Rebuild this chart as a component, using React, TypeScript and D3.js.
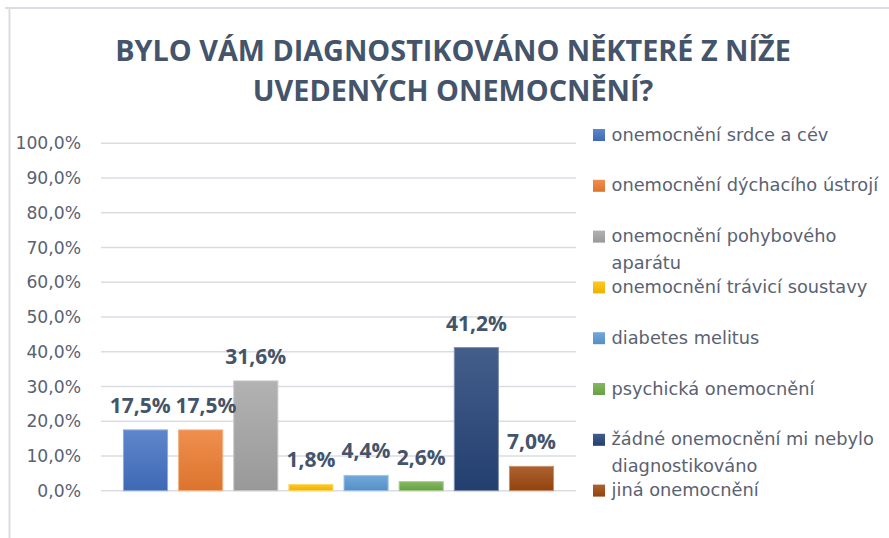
import React, { useEffect, useRef } from "react";
import * as d3 from "d3";

const titleLines = ["BYLO VÁM DIAGNOSTIKOVÁNO NĚKTERÉ Z NÍŽE", "UVEDENÝCH ONEMOCNĚNÍ?"];
const categories = [
  "onemocnění srdce a cév",
  "onemocnění dýchacího ústrojí",
  "onemocnění pohybového aparátu",
  "onemocnění trávicí soustavy",
  "diabetes melitus",
  "psychická onemocnění",
  "žádné onemocnění mi nebylo diagnostikováno",
  "jiná onemocnění",
];
const legendLines = [
  ["onemocnění srdce a cév"],
  ["onemocnění dýchacího ústrojí"],
  ["onemocnění pohybového", "aparátu"],
  ["onemocnění trávicí soustavy"],
  ["diabetes melitus"],
  ["psychická onemocnění"],
  ["žádné onemocnění mi nebylo", "diagnostikováno"],
  ["jiná onemocnění"],
];
const values = [17.5, 17.5, 31.6, 1.8, 4.4, 2.6, 41.2, 7.0];
const colors = ["#4472c4", "#ed7d31", "#a5a5a5", "#ffc000", "#5b9bd5", "#70ad47", "#264478", "#9e480e"];
const yTicks = [0, 10, 20, 30, 40, 50, 60, 70, 80, 90, 100];

const W = 889;
const H = 538;

export default function App() {
  const ref = useRef<SVGSVGElement | null>(null);

  useEffect(() => {
    const svg = d3.select(ref.current);
    svg.selectAll("*").remove();

    const plotLeft = 101, plotRight = 576, plotTop = 143.3, plotBottom = 490.7;
    const x = d3.scaleBand<number>().domain(d3.range(values.length)).range([plotLeft, plotRight]).paddingInner(0.2).paddingOuter(0.407);
    const y = d3.scaleLinear().domain([0, 100]).range([plotBottom, plotTop]);
    const fmt = (v: number) => v.toFixed(1).replace(".", ",") + "%";

    // frame
    svg.append("line").attr("x1", 5).attr("x2", W).attr("y1", 8).attr("y2", 8).attr("stroke", "#d9dde3").attr("stroke-width", 2);
    svg.append("line").attr("x1", 9.5).attr("x2", 9.5).attr("y1", 8).attr("y2", H).attr("stroke", "#d9dde3").attr("stroke-width", 2);

    // gradients
    const defs = svg.append("defs");
    colors.forEach((c, i) => {
      const g = defs.append("linearGradient").attr("id", "g" + i).attr("x1", 0).attr("y1", 0).attr("x2", 0).attr("y2", 1);
      g.append("stop").attr("offset", "0%").attr("stop-color", d3.interpolateRgb(c, "#ffffff")(0.14));
      g.append("stop").attr("offset", "100%").attr("stop-color", d3.color(c)!.darker(0.22).formatHex());
    });

    // title
    svg.append("g").selectAll("text").data(titleLines).join("text")
      .attr("x", 453).attr("y", (_d, i) => 61 + i * 39.5)
      .attr("text-anchor", "middle")
      .attr("font-family", "'Open Sans', sans-serif").attr("font-weight", 700).attr("font-size", 28.8)
      .attr("fill", "#44546a").text((d) => d);

    // gridlines
    svg.append("g").selectAll("line").data(yTicks).join("line")
      .attr("x1", plotLeft).attr("x2", plotRight)
      .attr("y1", (d) => y(d)).attr("y2", (d) => y(d))
      .attr("stroke", "#d9dde3").attr("stroke-width", 1.5);

    // y tick labels
    svg.append("g").selectAll("text").data(yTicks).join("text")
      .attr("x", 81).attr("y", (d) => y(d)).attr("dy", "0.36em")
      .attr("text-anchor", "end")
      .attr("font-family", "'DejaVu Sans', sans-serif").attr("font-size", 17.2)
      .attr("fill", "#5a6272").text((d) => fmt(d));

    // bars
    svg.append("g").selectAll("rect").data(values).join("rect")
      .attr("x", (_d, i) => x(i)!).attr("width", x.bandwidth())
      .attr("y", (d) => y(d)).attr("height", (d) => y(0) - y(d))
      .attr("fill", (_d, i) => `url(#g${i})`)
      .attr("stroke", (_d, i) => d3.interpolateRgb(colors[i], "#ffffff")(0.4)).attr("stroke-width", 1);

    // value labels
    const labels = svg.append("g").selectAll("text").data(values).join("text")
      .attr("x", (_d, i) => x(i)! + x.bandwidth() / 2).attr("y", (d) => y(d) - 17)
      .attr("text-anchor", "middle")
      .attr("font-family", "'Open Sans', sans-serif").attr("font-weight", 700).attr("font-size", 21)
      .attr("fill", "#44546a").text((d) => fmt(d));

    // simple collision avoidance between neighbouring labels
    const nodes = labels.nodes() as SVGTextElement[];
    const info = nodes.map((n, i) => ({ cx: x(i)! + x.bandwidth() / 2, w: n.getComputedTextLength(), y: y(values[i]) - 17 }));
    const gap = 5;
    for (let i = 0; i < info.length - 1; i++) {
      const a = info[i], b = info[i + 1];
      if (Math.abs(a.y - b.y) < 16) {
        const overlap = a.cx + a.w / 2 + gap - (b.cx - b.w / 2);
        if (overlap > 0) {
          a.cx -= overlap / 2;
          b.cx += overlap / 2;
        }
      }
    }
    nodes.forEach((n, i) => d3.select(n).attr("x", info[i].cx));

    // legend
    const lg = svg.append("g").selectAll("g").data(categories).join("g")
      .attr("transform", (_d, i) => `translate(593, ${140.5 + i * 50.8})`);
    lg.append("rect").attr("x", 0).attr("y", -11.5).attr("width", 12).attr("height", 12)
      .attr("fill", (_d, i) => `url(#g${i})`);
    lg.each(function (_d, i) {
      d3.select(this).selectAll("text").data(legendLines[i]).join("text")
        .attr("x", 18.5).attr("y", (_l, j) => j * 27)
        .attr("font-family", "'DejaVu Sans', sans-serif").attr("font-size", 17.8)
        .attr("fill", "#5a6272").text((l) => l);
    });
  }, []);

  return <svg ref={ref} width={W} height={H} style={{ position: "absolute", left: 0, top: 0, background: "#ffffff" }} />;
}
